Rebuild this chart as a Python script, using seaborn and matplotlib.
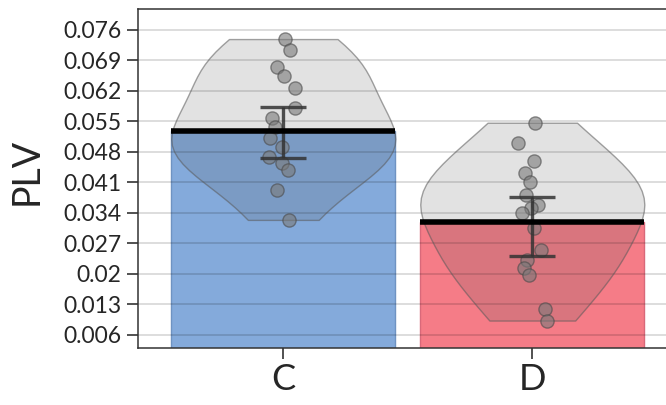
import numpy as np
import pandas as pd
import matplotlib
matplotlib.use("Agg")
import matplotlib.pyplot as plt
import seaborn as sns

# Groups and per-subject PLV values
groups = ["C", "D"]
plv_c = [0.0739, 0.0713, 0.0676, 0.0654, 0.0626, 0.0580, 0.0557, 0.0538,
         0.0511, 0.0492, 0.0469, 0.0454, 0.0439, 0.0393, 0.0324]
plv_d = [0.0547, 0.0500, 0.0460, 0.0431, 0.0412, 0.0381, 0.0358, 0.0351,
         0.0339, 0.0305, 0.0255, 0.0232, 0.0213, 0.0198, 0.0119, 0.0093]

# Group means and confidence interval bounds
group_mean = [0.0527, 0.0320]
ci_low = [0.0466, 0.0240]
ci_high = [0.0584, 0.0377]

# Axis ticks
ytick_values = [0.006, 0.013, 0.02, 0.027, 0.034, 0.041, 0.048, 0.055, 0.062, 0.069, 0.076]
ytick_labels = ["0.006", "0.013", "0.02", "0.027", "0.034", "0.041", "0.048",
                "0.055", "0.062", "0.069", "0.076"]

bar_colors = ["#84AADB", "#F57C87"]
bar_edges = ["#6F93C2", "#D9697A"]

sns.set_style("white")
plt.rcParams["font.family"] = ["Lato", "DejaVu Sans"]

points = pd.DataFrame({
    "group": ["C"] * len(plv_c) + ["D"] * len(plv_d),
    "plv": plv_c + plv_d,
})
means = pd.DataFrame({"group": groups, "plv": group_mean})

fig = plt.figure(figsize=(6.66, 4.05), dpi=100)
ax = fig.add_axes([138 / 666, 1 - 348 / 405, 1 - 138 / 666, (348 - 9) / 405])

# Bars for the group means
sns.barplot(data=means, x="group", y="plv", hue="group", palette=bar_colors,
            order=groups, width=0.9, errorbar=None, legend=False, ax=ax,
            saturation=1, zorder=1)
for patch, ec in zip(ax.patches, bar_edges):
    patch.set_edgecolor(ec)
    patch.set_linewidth(1.0)

# Violin of the distribution
n_before = len(ax.collections)
sns.violinplot(data=points, x="group", y="plv", order=groups, cut=0,
               gridsize=30, inner=None, density_norm="width", width=0.9,
               color="#555555", linewidth=1.0, ax=ax, zorder=2)
for coll in ax.collections[n_before:]:
    coll.set_facecolor((0.33, 0.33, 0.33, 0.17))
    coll.set_edgecolor((0.35, 0.35, 0.35, 0.55))
    coll.set_zorder(2)

# Individual points
np.random.seed(3)
n_before = len(ax.collections)
sns.stripplot(data=points, x="group", y="plv", order=groups, jitter=0.06,
              color="#7a7a7a", alpha=0.6, size=9.5, edgecolor="#4a4a4a",
              linewidth=1.0, ax=ax, zorder=3)
for coll in ax.collections[n_before:]:
    coll.set_zorder(3)

# Confidence interval error bars
xpos = np.arange(len(groups))
gm = np.array(group_mean)
yerr = np.vstack([gm - np.array(ci_low), np.array(ci_high) - gm])
ax.errorbar(xpos, gm, yerr=yerr, fmt="none", ecolor="#333333", elinewidth=2.4,
            capsize=16.5, capthick=2.4, alpha=0.85, zorder=4)

# Mean lines across the bar tops
ax.hlines(gm, xpos - 0.45, xpos + 0.45, colors="black", linewidth=4, zorder=5)

ax.set_xlim(-0.5835, 1.537)
ax.set_ylim(0.0030, 0.0808)
ax.set_yticks(ytick_values)
ax.set_yticklabels(ytick_labels)
ax.set_axisbelow("line")
ax.yaxis.grid(True, color="#000000", alpha=0.16, linewidth=1.2)
ax.xaxis.grid(False)

for side in ["left", "bottom", "top"]:
    ax.spines[side].set_visible(True)
    ax.spines[side].set_color("#333333")
    ax.spines[side].set_linewidth(1.1)
ax.spines["right"].set_visible(False)

ax.tick_params(axis="y", which="both", left=True, length=8, width=1.2,
               color="#333333", labelsize=16.5, pad=4)
ax.tick_params(axis="x", which="both", bottom=True, length=8, width=1.2,
               color="#333333", labelsize=26, pad=3)
ax.set_xlabel("")
ax.set_ylabel("PLV", fontsize=27)
ax.yaxis.set_label_coords(-0.176, 0.52)

fig.savefig("out.png", dpi=100)
